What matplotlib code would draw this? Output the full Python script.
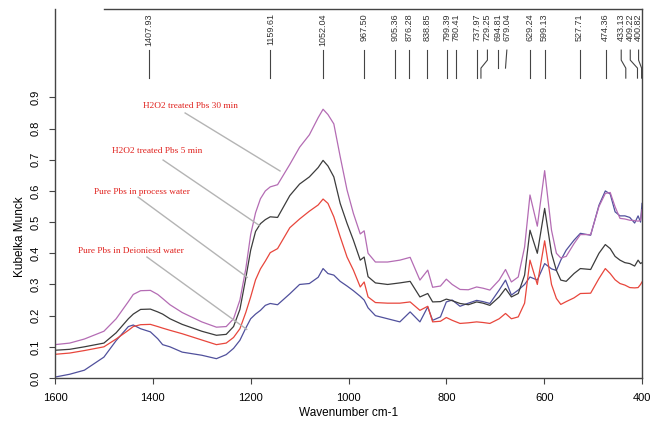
import numpy as np
from matplotlib import pyplot as plt

plt.rcParams['font.family'] = ['Liberation Sans', 'DejaVu Sans']

# wavenumber grid (cm-1) shared by the four spectra
wn = [1600, 1570, 1540, 1500, 1475, 1450, 1440, 1425, 1405, 1390, 1380, 1365, 1340,
      1300, 1270, 1250, 1235, 1222, 1210, 1200, 1190, 1180, 1170, 1160, 1145, 1120,
      1100, 1080, 1062, 1052, 1042, 1030, 1017, 1003, 990, 976, 968, 960, 945, 920,
      895, 874, 854, 838, 828, 812, 800, 788, 772, 755, 738, 725, 711, 692, 679, 667,
      653, 640, 629, 614, 599, 585, 575, 566, 555, 539, 526, 505, 488, 475, 465, 455,
      445, 435, 425, 415, 408, 403, 400]

km_30min = [0.107, 0.112, 0.125, 0.150, 0.19, 0.245, 0.268, 0.280, 0.281, 0.268, 0.255, 0.235, 0.21,
            0.180, 0.163, 0.165, 0.19, 0.25, 0.35, 0.46, 0.53, 0.575, 0.60, 0.613, 0.62, 0.685,
            0.74, 0.78, 0.835, 0.862, 0.845, 0.815, 0.71, 0.603, 0.528, 0.462, 0.472, 0.40, 0.372, 0.372,
            0.378, 0.387, 0.314, 0.346, 0.291, 0.295, 0.317, 0.30, 0.284, 0.283, 0.292, 0.288, 0.282, 0.314, 0.348, 0.308,
            0.324, 0.42, 0.587, 0.487, 0.665, 0.474, 0.40, 0.385, 0.39, 0.431, 0.46, 0.46, 0.55, 0.592, 0.595, 0.549,
            0.512, 0.51, 0.506, 0.505, 0.503, 0.506, 0.54]

km_5min = [0.089, 0.092, 0.10, 0.112, 0.145, 0.19, 0.205, 0.22, 0.221, 0.212, 0.205, 0.19, 0.172,
           0.150, 0.137, 0.140, 0.165, 0.22, 0.32, 0.41, 0.47, 0.495, 0.508, 0.517, 0.515, 0.585,
           0.622, 0.645, 0.675, 0.698, 0.68, 0.645, 0.56, 0.496, 0.442, 0.378, 0.388, 0.325, 0.305, 0.300,
           0.305, 0.310, 0.260, 0.271, 0.244, 0.245, 0.253, 0.248, 0.239, 0.235, 0.244, 0.24, 0.233, 0.26, 0.287, 0.26,
           0.271, 0.33, 0.474, 0.40, 0.544, 0.40, 0.345, 0.314, 0.31, 0.335, 0.351, 0.348, 0.40, 0.428, 0.415, 0.39,
           0.378, 0.37, 0.367, 0.359, 0.378, 0.367, 0.37]

km_process = [0.076, 0.08, 0.088, 0.100, 0.125, 0.153, 0.165, 0.171, 0.172, 0.165, 0.16, 0.153, 0.142,
              0.122, 0.107, 0.112, 0.13, 0.158, 0.21, 0.26, 0.315, 0.35, 0.375, 0.402, 0.415, 0.482,
              0.51, 0.535, 0.555, 0.574, 0.56, 0.517, 0.453, 0.388, 0.346, 0.292, 0.308, 0.26, 0.242, 0.240,
              0.240, 0.244, 0.217, 0.23, 0.18, 0.182, 0.194, 0.185, 0.175, 0.177, 0.18, 0.178, 0.175, 0.19, 0.207, 0.19,
              0.196, 0.24, 0.378, 0.30, 0.44, 0.30, 0.255, 0.236, 0.245, 0.257, 0.271, 0.272, 0.319, 0.351, 0.335, 0.315,
              0.303, 0.298, 0.29, 0.289, 0.29, 0.30, 0.308]

km_deion = [0.003, 0.012, 0.025, 0.067, 0.12, 0.165, 0.17, 0.158, 0.148, 0.126, 0.107, 0.10, 0.083,
            0.073, 0.062, 0.075, 0.095, 0.121, 0.16, 0.19, 0.205, 0.217, 0.233, 0.239, 0.235, 0.27,
            0.30, 0.303, 0.323, 0.351, 0.335, 0.33, 0.31, 0.295, 0.28, 0.262, 0.25, 0.225, 0.200, 0.19,
            0.18, 0.212, 0.18, 0.228, 0.185, 0.196, 0.244, 0.25, 0.23, 0.24, 0.249, 0.245, 0.239, 0.282, 0.314, 0.266,
            0.282, 0.30, 0.324, 0.314, 0.367, 0.35, 0.345, 0.378, 0.41, 0.442, 0.464, 0.458, 0.554, 0.60, 0.59, 0.533,
            0.52, 0.52, 0.515, 0.497, 0.52, 0.50, 0.56]

# picked peaks and where their labels sit
peaks = [1407.93, 1159.61, 1052.04, 967.50, 905.36, 876.28, 838.85, 799.39, 780.41,
         737.97, 729.25, 694.81, 679.04, 629.24, 599.13, 527.71, 474.36, 433.13, 409.22, 400.82]
label_pos = [1407.93, 1159.61, 1052.04, 967.50, 905.36, 876.28, 838.85, 799.39, 780.41,
             737.97, 716.0, 694.81, 676.3, 629.24, 599.13, 527.71, 474.36, 442.5, 424.0, 407.0]
short_lines = [694.81, 679.04]

series_names = ['H2O2 treated Pbs 30 min', 'H2O2 treated Pbs 5 min',
                'Pure Pbs in process water', 'Pure Pbs in Deioniesd water']
series_colors = ['#b46cb4', '#3c3c3c', '#e8463c', '#50509c']
text_pos = [(1324, 0.873), (1391, 0.7275), (1422, 0.595), (1445, 0.4066)]
lead_from = [(1334, 0.850), (1379, 0.699), (1430, 0.580), (1412, 0.388)]
lead_to = [(1140, 0.664), (1183, 0.490), (1207, 0.323), (1208, 0.156)]

fig = plt.figure(figsize=(6.62, 4.23), dpi=100)
ax = fig.add_axes([55 / 662, 45 / 423, 587 / 662, 369 / 423])

ytop = 1.1835
for ys, c in zip([km_deion, km_process, km_5min, km_30min], series_colors[::-1]):
    ax.plot(wn, ys, color=c, lw=0.9)

for name, (tx, ty), (x0, y0), (x1, y1) in zip(series_names, text_pos, lead_from, lead_to):
    ax.plot([x0, x1], [y0, y1], color='#b4b4b4', lw=1.0)
    ax.text(tx, ty, name, color='#e0201c', fontsize=6.7, family='Liberation Serif',
            ha='center', va='center')

# peak labels at the top
y_text, y_a, y_b, y_c, y_d = 1.1704, 1.0517, 1.0196, 0.9939, 0.9618
for p, lp in zip(peaks, label_pos):
    ax.text(lp, y_text, f'{p:.2f}', rotation=90, ha='center', va='top', fontsize=6.5, color='#333333')
    if p in short_lines:
        ax.plot([lp, p], [y_a, y_c], color='#444444', lw=0.8)
    elif lp != p:
        ax.plot([lp, lp, p, p], [y_a, y_b, y_c, y_d], color='#444444', lw=0.8)
    else:
        ax.plot([p, p], [y_a, y_d], color='#444444', lw=0.8)

ax.plot([1500, 400], [ytop, ytop], color='#444444', lw=1.0, clip_on=False)

ax.set_xlim(1600, 400)
ax.set_ylim(0, ytop)
ax.set_xticks([1600, 1400, 1200, 1000, 800, 600, 400])
ax.set_yticks(np.arange(0, 1.0, 0.1))
ax.set_yticklabels([f'{v:.1f}' for v in np.arange(0, 1.0, 0.1)], rotation=90, va='center')
ax.tick_params(direction='out', length=4.5, width=0.8, color='#444444', labelsize=8, pad=6)
ax.spines['top'].set_visible(False)
for s in ['left', 'right', 'bottom']:
    ax.spines[s].set_color('#444444')
    ax.spines[s].set_linewidth(1.0)

fig.text(348.5 / 662, 1 - 413 / 423, 'Wavenumber cm-1', ha='center', va='center', fontsize=8.5)
fig.text(20 / 662, 1 - 236.5 / 423, 'Kubelka Munck', ha='center', va='center', rotation=90, fontsize=8.5)

plt.savefig('out.png', dpi=100)
